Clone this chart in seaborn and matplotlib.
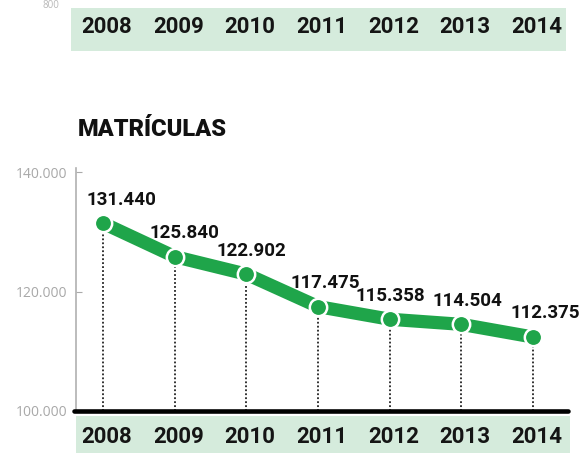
import pandas as pd
import seaborn as sns
import matplotlib.pyplot as plt

# Datos
years = [2008, 2009, 2010, 2011, 2012, 2013, 2014]
matriculas = [131440, 125840, 122902, 117475, 115358, 114504, 112375]
value_labels = ['131.440', '125.840', '122.902', '117.475', '115.358', '114.504', '112.375']
y_ticks = [100000, 120000, 140000]
y_tick_labels = ['100.000', '120.000', '140.000']
title = 'MATRÍCULAS'

verde = '#1fa54a'
verde_claro = '#d5ebdc'

df = pd.DataFrame({'pos': range(len(years)), 'valor': matriculas})

sns.set_style('white')
plt.rcParams['font.family'] = ['Roboto', 'DejaVu Sans']

W, H = 579, 453
fig = plt.figure(figsize=(W / 100, H / 100), dpi=100)


def caja(x0, x1, y0, y1):
    # caja en pixeles (y desde arriba) -> fraccion de figura
    return [x0 / W, 1 - y1 / H, (x1 - x0) / W, (y1 - y0) / H]


# primer punto en x=103 px, separacion ~71.7 px
x_first, paso = 103, 71.67


def lim(x0, x1):
    return ((x0 - x_first) / paso, (x1 - x_first) / paso)


# grafico principal
ax = fig.add_axes(caja(76, 568, 168, 411))
ax.vlines(df['pos'], 100000, df['valor'], colors='#222222',
          linestyles=(0, (1, 1.2)), lw=1.3, zorder=1)
sns.lineplot(data=df, x='pos', y='valor', ax=ax, color=verde, lw=9.5,
             marker='o', markersize=12.5, markerfacecolor=verde,
             markeredgecolor='white', markeredgewidth=1.8, zorder=3)

dx = [13, 7, 3.6, 5, 0.7, 4.3, 8.6]
for i, (v, t) in enumerate(zip(matriculas, value_labels)):
    ax.annotate(t, (i, v), xytext=(dx[i], 17), textcoords='offset points',
                ha='center', va='center', fontsize=13.5, fontweight='bold',
                color='#111111')

ax.set_xlim(lim(76, 568))
ax.set_ylim(100000, 100000 + 40000 * 243 / 239)
ax.set_xticks([])
ax.set_yticks(y_ticks, y_tick_labels)
ax.tick_params(axis='y', direction='in', length=4, color='#aaaaaa',
               labelcolor='#a8a8a8', labelsize=10, pad=6, left=True)
for lab in ax.get_yticklabels():
    lab.set_fontfamily('Open Sans')
ax.set_xlabel('')
ax.set_ylabel('')
sns.despine(ax=ax, bottom=True)
ax.spines['left'].set_color('#b0b0b0')
ax.spines['left'].set_linewidth(1.2)
ax.axhline(100000, xmin=-2 / 492, xmax=1, color='black', lw=3.3,
           clip_on=False, zorder=4)

# bandas verdes con los años
bot = fig.add_axes(caja(76, 570, 416, 453))
bot.set_xlim(lim(76, 570))
top = fig.add_axes(caja(71, 566, 8, 51))
top.set_xlim(lim(71, 566))
for band, yc in [(bot, 0.43), (top, 0.56)]:
    band.set_ylim(0, 1)
    band.set_facecolor(verde_claro)
    band.set_xticks([])
    band.set_yticks([])
    for s in band.spines.values():
        s.set_visible(False)
    for i, yr in enumerate(years):
        band.text(i + 0.05, yc, str(yr), ha='center', va='center',
                  fontsize=16, fontweight='bold', color='#151515')

fig.text(51 / W, 1.0, '800', ha='center', va='top',
         fontsize=7, color='#b8b8b8', family='Open Sans')
fig.text(78 / W, 1 - 129 / H, title, fontsize=17, fontweight='heavy',
         va='center', color='#111111')

fig.savefig('out.png', dpi=100)
